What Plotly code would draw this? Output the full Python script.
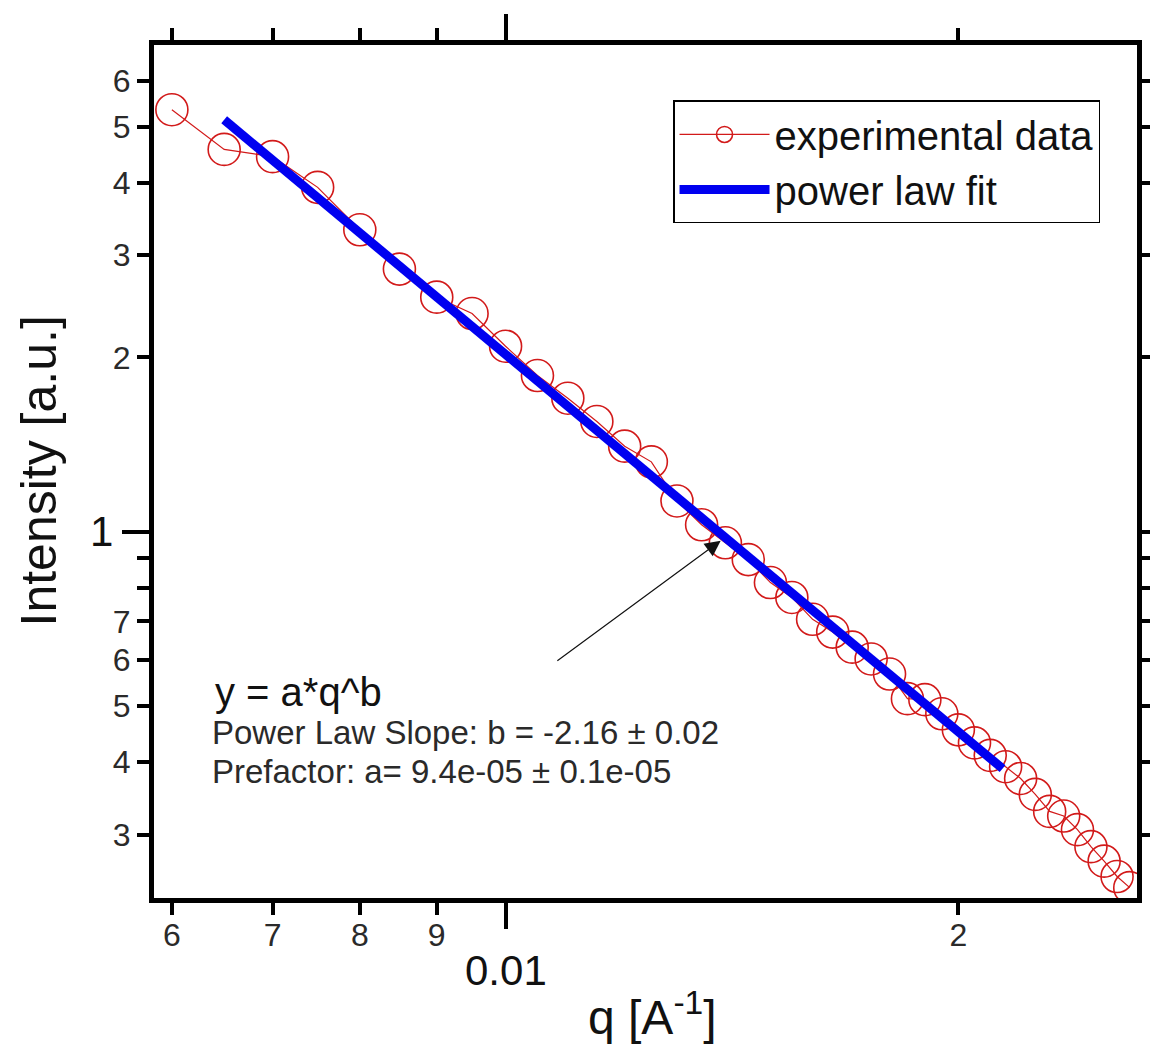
import math
import plotly.graph_objects as go

# ---------------- data ----------------
q_exp = [0.0060, 0.0065, 0.0070, 0.0075, 0.0080, 0.0085, 0.0090, 0.0095, 0.0100, 0.0105,
         0.0110, 0.0115, 0.0120, 0.0125, 0.0130, 0.0135, 0.0140, 0.0145, 0.0150, 0.0155,
         0.0160, 0.0165, 0.0170, 0.0175, 0.0180, 0.0185, 0.0190, 0.0195, 0.0200, 0.0205,
         0.0210, 0.0215, 0.0220, 0.0225, 0.0230, 0.0235, 0.0240, 0.0245, 0.0250, 0.0255,
         0.0260]
I_exp = [5.35, 4.57, 4.44, 3.93, 3.32, 2.84, 2.54, 2.38, 2.09, 1.86,
         1.70, 1.55, 1.405, 1.32, 1.13, 1.028, 0.957, 0.895, 0.817, 0.770,
         0.706, 0.671, 0.632, 0.603, 0.568, 0.515, 0.513, 0.485, 0.455, 0.432,
         0.411, 0.393, 0.375, 0.352, 0.329, 0.323, 0.306, 0.286, 0.270, 0.254,
         0.243]

fit_q = [0.0065, 0.0214]
fit_I = [5.14, 0.39]

x_tickvals = [0.006, 0.007, 0.008, 0.009, 0.02]
x_ticktext = ["6", "7", "8", "9", "2"]
x_long_tick = [0.01]
x_long_label = "0.01"

y_tickvals = [0.3, 0.4, 0.5, 0.6, 0.7, 0.8, 0.9, 2, 3, 4, 5, 6]
y_ticktext = ["3", "4", "5", "6", "7", "", "", "2", "3", "4", "5", "6"]
y_long_tick = [1]
y_long_label = "1"

x_range = [0.005838, 0.02629]
y_range = [0.2332, 6.92]

arrow_tip = (0.0139, 0.965)
arrow_tail = (0.0108, 0.596)

FONT = "Arial, Liberation Sans, sans-serif"
RED = "#d21a1a"
BLUE = "#0000f0"
TICKCOL = "#2a2a2a"

fig = go.Figure()
fig.add_trace(go.Scatter(
    x=q_exp, y=I_exp, mode="lines+markers", name="experimental data",
    line=dict(color=RED, width=1.2),
    marker=dict(symbol="circle-open", size=32, color=RED, line=dict(width=1.6, color=RED)),
))
fig.add_trace(go.Scatter(
    x=fit_q, y=fit_I, mode="lines", name="power law fit",
    line=dict(color=BLUE, width=9),
))

axis_common = dict(
    type="log", showgrid=False, zeroline=False,
    showline=True, linewidth=5, linecolor="black", mirror="ticks",
    ticks="outside", ticklen=12, tickwidth=4, tickcolor="black",
    tickfont=dict(family=FONT, size=32, color=TICKCOL),
    tickmode="array",
)

fig.update_xaxes(
    **axis_common,
    range=[math.log10(x_range[0]), math.log10(x_range[1])],
    tickvals=x_tickvals, ticktext=x_ticktext,
    ticklabelstandoff=-7,
    minor=dict(tickmode="array", tickvals=x_long_tick, ticks="outside",
               ticklen=26, tickwidth=4, tickcolor="black", showgrid=False),
)
fig.update_yaxes(
    **axis_common,
    range=[math.log10(y_range[0]), math.log10(y_range[1])],
    tickvals=y_tickvals, ticktext=y_ticktext,
    minor=dict(tickmode="array", tickvals=y_long_tick, ticks="outside",
               ticklen=27, tickwidth=4, tickcolor="black", showgrid=False),
)

annotations = [
    # long-tick labels
    dict(x=math.log10(x_long_tick[0]), xref="x", y=-0.085, yref="paper",
         text=x_long_label, showarrow=False, xanchor="center", yanchor="middle",
         font=dict(family=FONT, size=42, color="#111111")),
    dict(x=-0.040, xref="paper", y=math.log10(y_long_tick[0]), yref="y",
         text=y_long_label, showarrow=False, xanchor="right", yanchor="middle",
         font=dict(family=FONT, size=42, color="#111111")),
    # axis titles
    dict(x=-0.118, xref="paper", y=0.5, yref="paper", text="Intensity [a.u.]",
         textangle=-90, showarrow=False, xanchor="center", yanchor="middle",
         font=dict(family=FONT, size=50, color="#111111")),
    dict(x=0.507, xref="paper", y=-0.136, yref="paper", text="q [A<sup>-1</sup>]",
         showarrow=False, xanchor="center", yanchor="middle",
         font=dict(family=FONT, size=48, color="#111111")),
    # fit info
    dict(x=0.060, xref="paper", y=0.2415, yref="paper", text="y = a*q^b",
         showarrow=False, xanchor="left", yanchor="middle",
         font=dict(family=FONT, size=40, color="#111111")),
    dict(x=0.057, xref="paper", y=0.1937, yref="paper",
         text="Power Law Slope: b = -2.16 ± 0.02",
         showarrow=False, xanchor="left", yanchor="middle",
         font=dict(family=FONT, size=33, color="#2a2a2a")),
    dict(x=0.057, xref="paper", y=0.1482, yref="paper",
         text="Prefactor: a= 9.4e-05 ± 0.1e-05",
         showarrow=False, xanchor="left", yanchor="middle",
         font=dict(family=FONT, size=33, color="#2a2a2a")),
    # arrow
    dict(x=math.log10(arrow_tip[0]), y=math.log10(arrow_tip[1]), xref="x", yref="y",
         ax=math.log10(arrow_tail[0]), ay=math.log10(arrow_tail[1]), axref="x", ayref="y",
         text="", showarrow=True, arrowhead=2, arrowsize=2.6, arrowwidth=1.2,
         arrowcolor="#111111", standoff=0),
]

fig.update_layout(
    width=1158, height=1055,
    margin=dict(l=146, r=20, t=37, b=165),
    paper_bgcolor="white", plot_bgcolor="white",
    showlegend=True,
    legend=dict(
        x=0.528, y=0.935, xanchor="left", yanchor="top",
        bgcolor="white", bordercolor="black", borderwidth=1.5,
        font=dict(family=FONT, size=40, color="#111111"),
        itemwidth=90, tracegroupgap=0,
    ),
    annotations=annotations,
)

fig.write_html("out.html")
